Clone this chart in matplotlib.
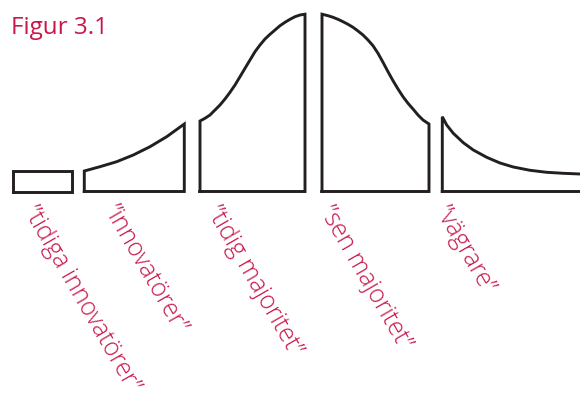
import matplotlib
matplotlib.use("Agg")
import matplotlib.pyplot as plt

# ---- data (x in horizontal units, heights above baseline) ----
labels = ["\u201dtidiga innovatörer\u201d", "\u201dinnovatörer\u201d", "\u201dtidig majoritet\u201d",
          "\u201dsen majoritet\u201d", "\u201dvägrare\u201d"]

seg1_x = [13.3, 71.7]
seg1_h = [20.5, 20.5]

seg2_x = [84.3, 100, 116.7, 133.3, 150, 166.7, 184.3]
seg2_h = [20.5, 24.8, 29.8, 36.5, 44.8, 54.8, 67.5]

seg3_x = [200, 205, 210, 215, 220, 225, 230, 235, 240, 245, 250, 255, 260,
          265, 270, 275, 280, 285, 290, 295, 300, 305]
seg3_h = [70.5, 73.2, 76.5, 81.5, 86.5, 92.5, 99.2, 106.5, 114.8, 123.2, 131.5,
          139.8, 146.5, 152.5, 157.2, 161.5, 165.8, 169.2, 172.2, 174.8, 176.5, 177.3]

seg4_x = [322, 328, 333, 338, 343, 348, 353, 358, 363, 368, 373, 378, 383,
          388, 393, 398, 403, 408, 413, 418, 423, 429]
seg4_h = [177.3, 175.8, 174.2, 172.2, 169.8, 167.2, 164.2, 160.5, 156.5, 151.5,
          145.8, 138.2, 129.2, 119.8, 110.8, 102.5, 94.8, 88.2, 82.5, 76.5, 71.5, 67.5]

seg5_x = [442.3, 446.7, 453.3, 463.3, 473.3, 486.7, 500, 513.3, 530, 546.7, 563.3, 580, 600]
seg5_h = [74.8, 66.5, 58.2, 48.8, 41.5, 34.2, 28.5, 24.5, 21.2, 19.2, 18.2, 17.5, 17.3]

title = "Figur 3.1"

# ---- layout / style ----
LINE = "#231f20"
RED = "#c8174b"
FONT = ["Open Sans", "DejaVu Sans"]
label_anchor_x = [40, 120, 223, 336, 451]
label_anchor_y = -9.5

fig = plt.figure(figsize=(5.8, 3.99), dpi=100)
ax = fig.add_axes([0, 0, 1, 1])
ax.set_xlim(0, 580)
ax.set_ylim(-207.5, 191.5)
ax.axis("off")

segments = [(seg1_x, seg1_h), (seg2_x, seg2_h), (seg3_x, seg3_h),
            (seg4_x, seg4_h), (seg5_x, seg5_h)]
for xs, hs in segments:
    px = [xs[0]] + list(xs) + [xs[-1], xs[0]]
    py = [0] + list(hs) + [0, 0]
    ax.plot(px, py, color=LINE, lw=2.1, solid_joinstyle="miter",
            solid_capstyle="projecting")

for lab, lx in zip(labels, label_anchor_x):
    ax.text(lx, label_anchor_y, lab, rotation=-60, rotation_mode="anchor",
            ha="left", va="top", color=RED, fontsize=17.8, fontweight="light",
            family=FONT)

fig.text(11 / 580, 1 - 34.3 / 399, title, ha="left", va="baseline",
         color=RED, fontsize=17.5, family=FONT)

fig.savefig("out.png", dpi=100)
